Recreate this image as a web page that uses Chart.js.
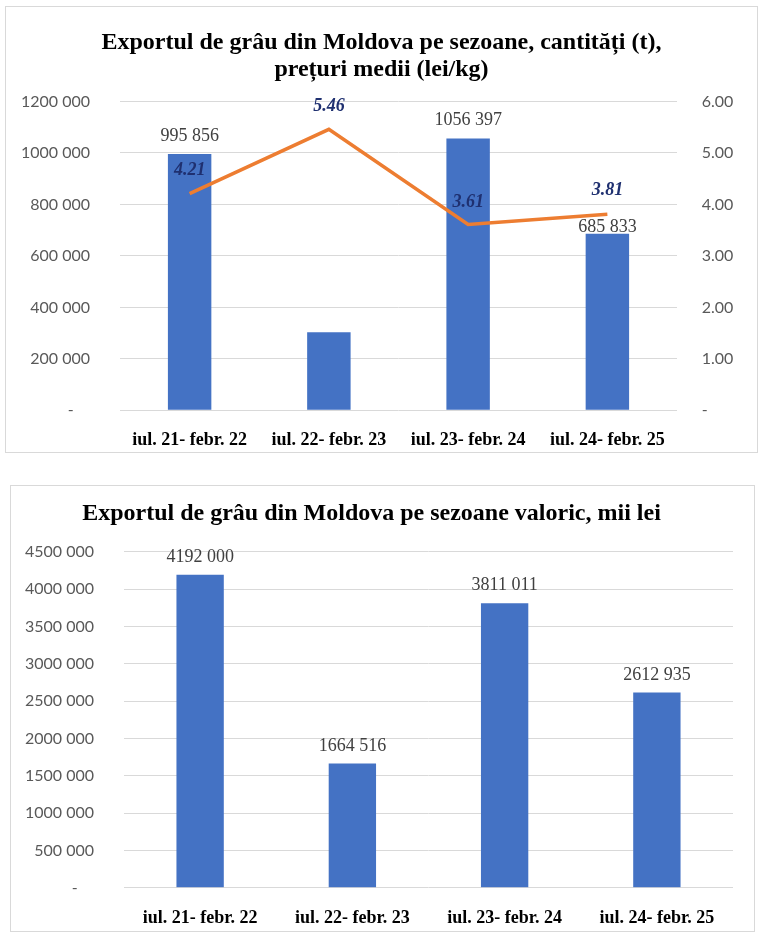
<!DOCTYPE html>
<html>
<head>
<meta charset="utf-8">
<script src="https://cdn.jsdelivr.net/npm/chart.js@4.4.1/dist/chart.umd.min.js"></script>
<style>
  html, body { margin: 0; padding: 0; background: #ffffff; }
  body { width: 770px; height: 944px; position: relative; overflow: hidden; }
  .box { position: absolute; border: 1px solid #d9d9d9; box-sizing: border-box; }
  canvas { position: absolute; }
</style>
</head>
<body>
<div class="box" style="left:5px; top:6px; width:753px; height:447px;"></div>
<canvas id="c1" width="753" height="447" style="left:5px; top:6px;"></canvas>
<div class="box" style="left:10px; top:485px; width:745px; height:447px;"></div>
<canvas id="c2" width="745" height="447" style="left:10px; top:485px;"></canvas>
<script>
// ---------- DATA ----------
const categories = ['iul. 21- febr. 22', 'iul. 22- febr. 23', 'iul. 23- febr. 24', 'iul. 24- febr. 25'];
const quantityTonnes = [995856, 303000, 1056397, 685833];
const quantityLabelShown = [true, false, true, true];
const avgPriceLeiKg = [4.21, 5.46, 3.61, 3.81];
const valueThousandLei = [4192000, 1664516, 3811011, 2612935];
const title1 = ['Exportul de grâu din Moldova pe sezoane, cantități (t),', 'prețuri medii (lei/kg)'];
const title2 = 'Exportul de grâu din Moldova pe sezoane valoric, mii lei';

// ---------- HELPERS ----------
function fmtSpace(v) {
  const s = Math.round(v).toString();
  return s.length > 3 ? s.slice(0, -3) + ' ' + s.slice(-3) : s;
}
const SERIF = "'Liberation Serif', 'Times New Roman', serif";
const SANS = "Lato, 'Liberation Sans', sans-serif";
const BAR_COLOR = '#4472C4';
const LINE_COLOR = '#ED7D31';

const valueLabels = {
  id: 'valueLabels',
  afterDatasetsDraw(chart) {
    const ctx = chart.ctx;
    chart.data.datasets.forEach((ds, di) => {
      const lab = ds.valueLabel;
      if (!lab) return;
      const meta = chart.getDatasetMeta(di);
      meta.data.forEach((el, i) => {
        if (lab.show && !lab.show[i]) return;
        const off = Array.isArray(lab.offset) ? lab.offset[i] : lab.offset;
        ctx.save();
        ctx.font = lab.font;
        ctx.fillStyle = lab.color;
        ctx.textAlign = 'center';
        ctx.textBaseline = 'middle';
        ctx.fillText(lab.format(ds.data[i]), el.x, el.y - off);
        ctx.restore();
      });
    });
  }
};

Chart.defaults.animation = false;
Chart.defaults.font.family = SANS;

const tickFont = { family: SANS, size: 16 };
const catFont = { family: SERIF, size: 18, weight: 'bold' };

// ---------- CHART 1 ----------
new Chart(document.getElementById('c1'), {
  type: 'bar',
  data: {
    labels: categories,
    datasets: [
      {
        type: 'line',
        label: 'Preț mediu (lei/kg)',
        data: avgPriceLeiKg,
        yAxisID: 'y1',
        borderColor: LINE_COLOR,
        backgroundColor: LINE_COLOR,
        borderWidth: 3.5,
        pointRadius: 0,
        tension: 0,
        order: 0,
        valueLabel: {
          font: 'italic bold 18px ' + SERIF,
          color: '#1F3070',
          offset: [23, 23, 21.7, 23.4],
          format: v => v.toFixed(2)
        }
      },
      {
        type: 'bar',
        label: 'Cantitate (t)',
        data: quantityTonnes,
        yAxisID: 'y',
        backgroundColor: BAR_COLOR,
        categoryPercentage: 1,
        barPercentage: 0.312,
        order: 1,
        valueLabel: {
          font: '18px ' + SERIF,
          color: '#404040',
          offset: [17.3, 17.3, 18.3, 6.3],
          show: quantityLabelShown,
          format: fmtSpace
        }
      }
    ]
  },
  options: {
    responsive: false,
    layout: { padding: { left: 0, right: 0, top: 0, bottom: 0 } },
    plugins: {
      legend: { display: false },
      tooltip: { enabled: false },
      title: {
        display: true,
        text: title1,
        color: '#000000',
        font: { family: SERIF, size: 24, weight: 'bold', lineHeight: 1.1 },
        padding: { top: 23.8, bottom: 18.9 }
      }
    },
    scales: {
      x: {
        grid: { display: false },
        border: { display: false },
        ticks: { font: catFont, color: '#000000', padding: 11.2 },
        afterFit: s => { s.height = 42.7; }
      },
      y: {
        position: 'left',
        min: 0, max: 1200000,
        grid: { color: '#d9d9d9', lineWidth: 1, drawTicks: false },
        border: { display: false },
        ticks: {
          stepSize: 200000, font: tickFont, color: '#595959', padding: 30,
          callback: v => v === 0 ? '-    ' : fmtSpace(v)
        },
        afterFit: s => { s.width = 115; }
      },
      y1: {
        position: 'right',
        min: 0, max: 6,
        grid: { display: false, drawTicks: false },
        border: { display: false },
        ticks: {
          stepSize: 1, font: tickFont, color: '#595959', padding: 24.7,
          callback: v => v === 0 ? '-' : Number(v).toFixed(2)
        },
        afterFit: s => { s.width = 81; }
      }
    }
  },
  plugins: [valueLabels]
});

// ---------- CHART 2 ----------
new Chart(document.getElementById('c2'), {
  type: 'bar',
  data: {
    labels: categories,
    datasets: [
      {
        label: 'Valoare (mii lei)',
        data: valueThousandLei,
        backgroundColor: BAR_COLOR,
        categoryPercentage: 1,
        barPercentage: 0.311,
        valueLabel: {
          font: '18px ' + SERIF,
          color: '#404040',
          offset: 17.5,
          format: fmtSpace
        }
      }
    ]
  },
  options: {
    responsive: false,
    layout: { padding: { left: 0, right: 22, top: 0, bottom: 0 } },
    plugins: {
      legend: { display: false },
      tooltip: { enabled: false },
      title: {
        display: true,
        text: title2,
        color: '#000000',
        font: { family: SERIF, size: 24, weight: 'bold', lineHeight: 1.1 },
        padding: { top: 15.1, bottom: 25.2 }
      }
    },
    scales: {
      x: {
        grid: { display: false },
        border: { display: false },
        ticks: { font: catFont, color: '#000000', padding: 12.2 },
        afterFit: s => { s.height = 44.3; }
      },
      y: {
        min: 0, max: 4500000,
        grid: { color: '#d9d9d9', lineWidth: 1, drawTicks: false },
        border: { display: false },
        ticks: {
          stepSize: 500000, font: tickFont, color: '#595959', padding: 30,
          callback: v => v === 0 ? '-    ' : fmtSpace(v)
        },
        afterFit: s => { s.width = 114; }
      }
    }
  },
  plugins: [valueLabels]
});
</script>
</body>
</html>
